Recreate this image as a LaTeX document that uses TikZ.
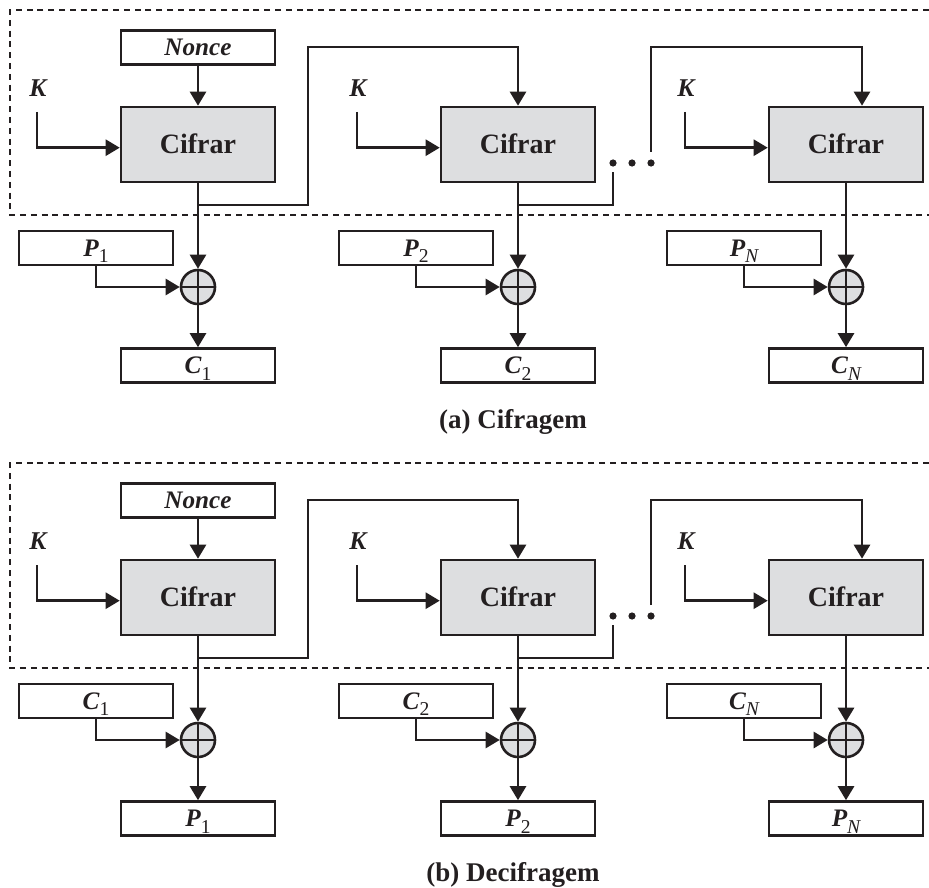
\documentclass[tikz,border=0pt]{standalone}
\usepackage{fontspec}
\setmainfont{Liberation Serif}
\usetikzlibrary{arrows.meta}

\definecolor{ink}{RGB}{35,31,32}
\definecolor{cipherfill}{RGB}{221,222,224}

% lowered index for P_i and C_i
\newcommand\lowidx[1]{\raisebox{-3.2pt}{\fontsize{9.8}{10}\selectfont\mdseries\upshape #1}}
\newcommand\lowidxit[1]{\raisebox{-3.2pt}{\fontsize{9.8}{10}\selectfont\mdseries\itshape #1}}

\tikzset{
  box/.style={draw=ink, text=ink, line width=1.3pt, inner sep=0pt, minimum width=77pt},
  cipher/.style={box, fill=cipherfill, minimum height=37.5pt,
    font=\fontsize{14}{14}\selectfont\bfseries, text height=9.3pt, text depth=0pt},
  databox/.style={box, minimum height=17pt,
    font=\fontsize{12.6}{13}\selectfont\bfseries\itshape, text height=8.2pt, text depth=0pt},
  keylabel/.style={text=ink, inner sep=0pt, font=\fontsize{12.8}{13}\selectfont\bfseries\itshape},
  xor/.style={circle, draw=ink, fill=cipherfill, line width=1.3pt, minimum size=17pt, inner sep=0pt,
    path picture={\draw[ink, line width=1.3pt]
      (path picture bounding box.north) -- (path picture bounding box.south)
      (path picture bounding box.west) -- (path picture bounding box.east);}},
  wire/.style={draw=ink, line width=1.3pt},
  flow/.style={wire, -{Triangle[length=7pt,width=8pt]}},
  frame/.style={draw=ink, line width=1.2pt, dash pattern=on 3pt off 2.4pt},
  dotmark/.style={circle, fill=ink, inner sep=0pt, minimum size=3.6pt},
  caption/.style={text=ink, font=\fontsize{13.5}{14}\selectfont\bfseries}
}

% one CTR panel: #1 prefix, #2 vertical offset, #3 input text, #4 output text, #5 caption
\newcommand\ctrpanel[5]{%
\begin{scope}[shift={(0,#2)}]
  % counter-chain region
  \draw[frame] (929,10) -- (10,10) -- (10,215) -- (929,215);

  \node[databox] (#1-nonce) at (198,47.5) {Nonce};
  \node[cipher] (#1-c1) at (198,144.5) {Cifrar};
  \node[cipher] (#1-c2) at (518,144.5) {Cifrar};
  \node[cipher] (#1-c3) at (846,144.5) {Cifrar};

  % key inputs
  \foreach \k/\kx in {1/37,2/357,3/685}{
    \node[keylabel] (#1-k\k) at (\kx+1,88) {K};
    \coordinate (#1-ks\k) at (\kx,112);
    \draw[flow] (#1-ks\k) |- ([yshift=-1.6pt]#1-c\k.west);
  }

  \draw[flow] (#1-nonce) -- (#1-c1);

  % counter chain from block 1 to block 2
  \coordinate (#1-r1) at (308,205);
  \coordinate (#1-t1) at (308,47);
  \draw[flow] (#1-c1 |- #1-r1) -- (#1-r1) -- (#1-t1) -| (#1-c2);

  % counter chain from block 2 onwards
  \coordinate (#1-r2) at (613,205);
  \coordinate (#1-d2) at (613,172);
  \draw[wire] (#1-c2 |- #1-r2) -- (#1-r2) -- (#1-d2);
  \node[dotmark] (#1-dot1) at (613,163) {};
  \node[dotmark] (#1-dot2) at (632,163) {};
  \node[dotmark] (#1-dot3) at (651,163) {};
  \coordinate (#1-u3) at (651,152);
  \coordinate (#1-t3) at (651,47);
  \draw[flow] (#1-u3) -- (#1-t3) -| ([xshift=8pt]#1-c3.north);

  % XOR stage
  \foreach \i/\ix/\px/\sub in {1/198/96/\lowidx{1},2/518/416/\lowidx{2},3/846/744/\lowidxit{N}}{
    \node[databox] (#1-in\i) at (\px,248) {#3\sub};
    \node[xor] (#1-x\i) at (\ix,287) {};
    \node[databox] (#1-out\i) at (\ix,365.5) {#4\sub};
    \draw[flow] (#1-c\i) -- (#1-x\i);
    \draw[flow] (#1-in\i) |- (#1-x\i);
    \draw[flow] (#1-x\i) -- (#1-out\i);
  }

  \node[caption] (#1-cap) at (513,422) {#5};
\end{scope}}

\begin{document}
\begin{tikzpicture}[x=0.5pt,y=-0.5pt]
  \useasboundingbox (0,0) rectangle (929,887);
  \ctrpanel{enc}{0}{P}{C}{(a) Cifragem}
  \ctrpanel{dec}{453}{C}{P}{(b) Decifragem}
\end{tikzpicture}
\end{document}
